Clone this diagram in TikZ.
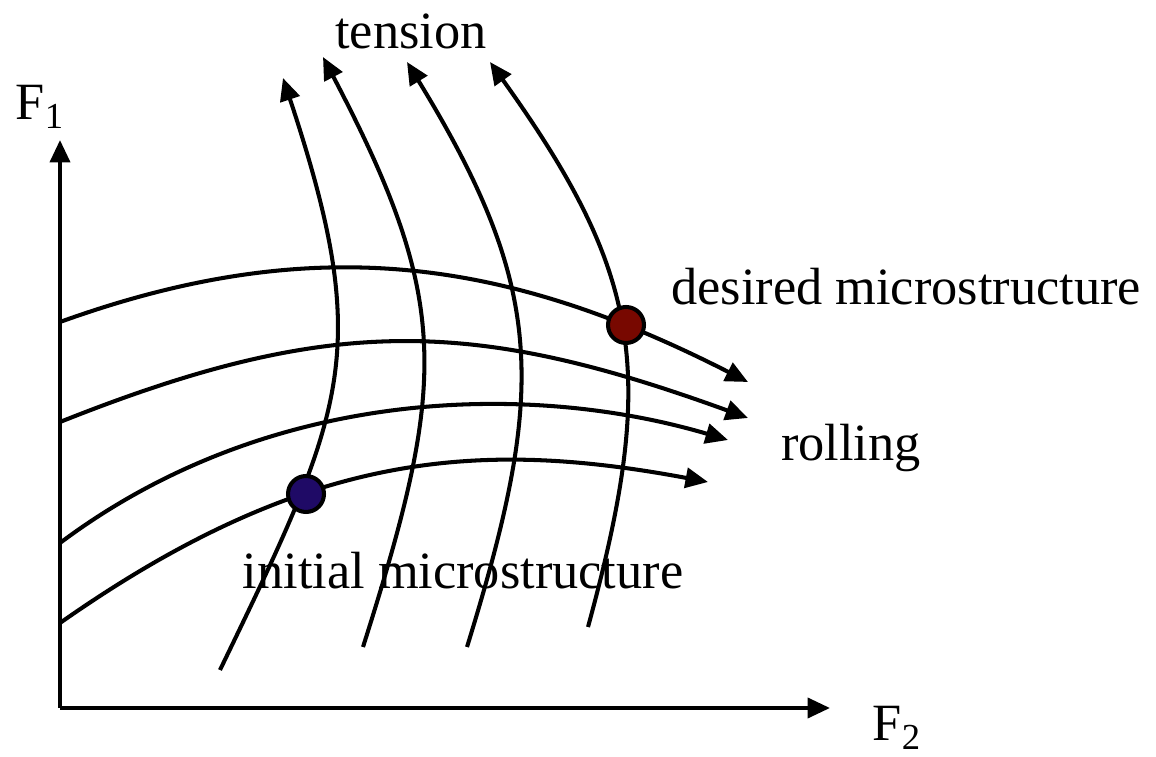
\documentclass[tikz,border=0pt]{standalone}
\usepackage{fontspec}
\setmainfont{Liberation Serif}
\usepackage{xcolor}
\usetikzlibrary{arrows.meta, positioning, calc}

\definecolor{deepred}{HTML}{780800}
\definecolor{deepblue}{HTML}{1F0A66}

\begin{document}
\begin{tikzpicture}[
            x=0.02cm, y=0.02cm,
            >={Triangle[length=0.45cm, width=0.4cm]}, line width=2.3pt,
            % ---- styles ----
            axis/.style = {->},
            path line/.style = {->},
            state/.style = {draw, circle, minimum size=0.72cm, inner sep=0pt, line width=2.3pt},
            lbl/.style = {inner sep=0pt, font=\fontsize{29.8}{35}\selectfont}
        ]
        \useasboundingbox (0,0) rectangle (1156,757);

        % ===================== axes =====================
        \coordinate (O) at (60,49);
        \coordinate (ytip) at (60,617);
        \coordinate (xtip) at (830,49);
        \draw[axis] (O) -- (ytip);
        \draw[axis] (O) -- (xtip);
        \node[lbl] (F1) at (40,650) {F\textsubscript{1}};
        \node[lbl] (F2) at (897,29) {F\textsubscript{2}};

        % ===================== rolling paths =====================
        \draw[path line] (60,435) .. controls (315,527) and (507,498) .. (748,375);
        \draw[path line] (60,335) .. controls (331,443) and (473,439) .. (748,339);
        \draw[path line] (60,214) .. controls (268,370) and (528,376) .. (728,317);
        \draw[path line] (60,134) .. controls (305,306) and (478,318) .. (708,275);

        % ===================== tension paths =====================
        \draw[path line] (220,87) .. controls (346,348) and (374,404) .. (283,679);
        \draw[path line] (363,110) .. controls (447,375) and (452,454) .. (323,700);
        \draw[path line] (467,110) .. controls (546,366) and (547,466) .. (407,695);
        \draw[path line] (588,130) .. controls (657,383) and (643,481) .. (490,695);

        % ===================== states =====================
        \node[state, fill=deepblue] (init) at (306,263) {};
        \node[state, fill=deepred] (goal) at (626,432) {};

        % ---- labels ----
        \node[lbl] (tension) at (411,726) {tension};
        \node[lbl] (rolling) at (851,309) {rolling};
        \node[lbl] (desired) at (906,470) {desired microstructure};
        \node[lbl] (initial) at (463,186) {initial microstructure};

\end{tikzpicture}
\end{document}
